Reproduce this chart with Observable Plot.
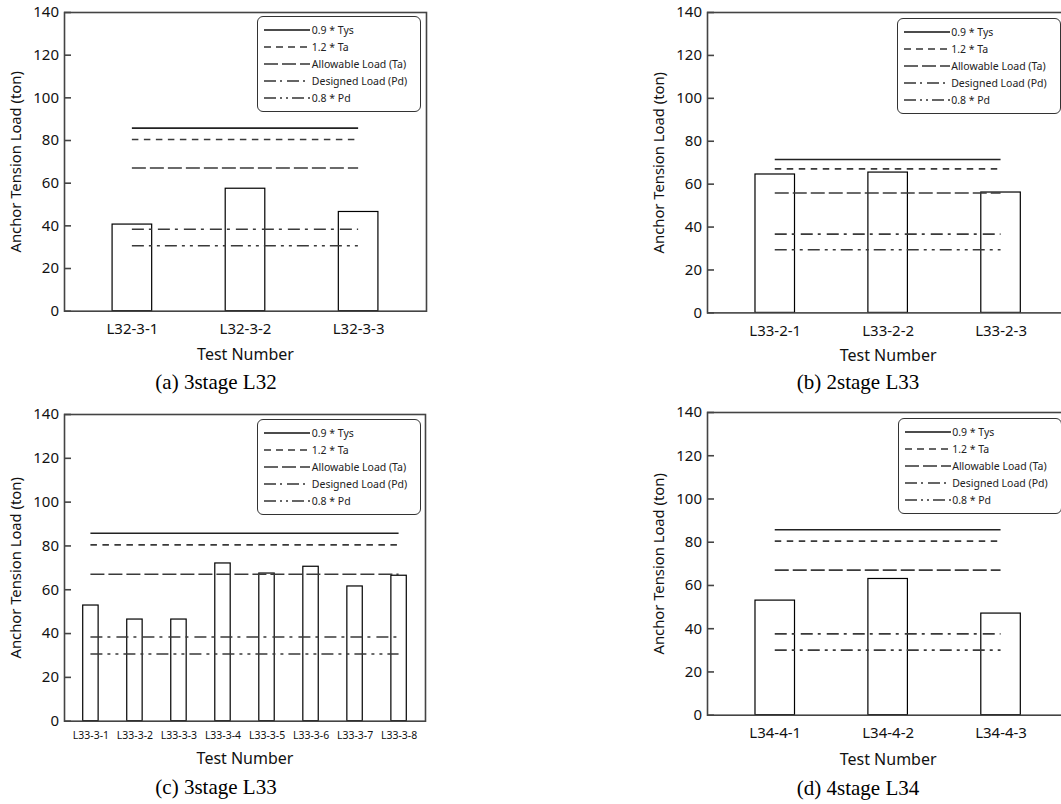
<!DOCTYPE html>
<html><head><meta charset="utf-8">
<script src="https://cdn.jsdelivr.net/npm/d3@7"></script>
<script src="https://cdn.jsdelivr.net/npm/@observablehq/plot@0.6"></script>
<style>
html,body{margin:0;padding:0;background:#fff;}
#root{position:relative;width:1061px;height:804px;overflow:hidden;font-family:"Noto Sans",sans-serif;}
.panel-svg{position:absolute;}
.caption{position:absolute;transform:translate(-50%,-50%);font-family:"Liberation Serif","Times New Roman",serif;font-size:21px;color:#000;white-space:nowrap;line-height:1;}
.legend{position:absolute;width:164px;height:96px;box-sizing:border-box;border:1px solid #333;border-radius:6px;background:#fff;}
.legend-row{position:absolute;left:0;width:160px;height:12px;}
.legend-row svg{position:absolute;left:6px;top:4px;}
.legend-row span{position:absolute;left:53.5px;top:-1px;font-size:10.5px;line-height:14px;color:#222;white-space:nowrap;}
</style></head><body><div id="root"></div>
<script>
// ---- data ----
const yTicks = [0, 20, 40, 60, 80, 100, 120, 140];
const refNames = ["0.9 * Tys", "1.2 * Ta", "Allowable Load (Ta)", "Designed Load (Pd)", "0.8 * Pd"];
const yTitle = "Anchor Tension Load (ton)";
const xTitle = "Test Number";

const testsA = ["L32-3-1", "L32-3-2", "L32-3-3"];
const loadsA = [40.6, 57.4, 46.5];
const refsA = [85.8, 80.5, 67.1, 38.4, 30.7];

const testsB = ["L33-2-1", "L33-2-2", "L33-2-3"];
const loadsB = [64.5, 65.4, 56.1];
const refsB = [71.5, 67.1, 55.9, 36.7, 29.4];

const testsC = ["L33-3-1", "L33-3-2", "L33-3-3", "L33-3-4", "L33-3-5", "L33-3-6", "L33-3-7", "L33-3-8"];
const loadsC = [52.8, 46.4, 46.4, 72.0, 67.4, 70.5, 61.5, 66.4];
const refsC = [85.8, 80.5, 67.1, 38.4, 30.7];

const testsD = ["L34-4-1", "L34-4-2", "L34-4-3"];
const loadsD = [53.0, 63.0, 47.0];
const refsD = [85.8, 80.5, 67.1, 37.6, 30.1];

const captions = ["(a) 3stage L32", "(b) 2stage L33", "(c) 3stage L33", "(d) 4stage L34"];

// ---- styles / layout ----
const SANS = '"Noto Sans", "Open Sans", sans-serif';
const DASHES = [null, "6.5,5.5", "14,4", "12,5,3,6", "12,5,3,5,3,5"];
const LEG_DASHES = [null, "7,5", "14,4", "12,4,2,5", "12,4,2,4,2,4"];
const PAD = 0.1;     // outer padding in category units
const HALF = 0.175;  // half bar width in category units
const Y_TICK_FONT = 15;

const panels = [
  {tests: testsA, loads: loadsA, refs: refsA, caption: captions[0],
   frame: {l: 64, t: 12.3, r: 426, b: 311}, xFont: 15, xPad: 12, titleDy: 44, capX: 216, capY: 382, leg: {l: 257.3, t: 15.7}},
  {tests: testsB, loads: loadsB, refs: refsB, caption: captions[1],
   frame: {l: 706.7, t: 12.3, r: 1068, b: 312.7}, xFont: 15, xPad: 12, titleDy: 43.3, capX: 858, capY: 382, leg: {l: 896.7, t: 18.3}},
  {tests: testsC, loads: loadsC, refs: refsC, caption: captions[2],
   frame: {l: 64, t: 414.3, r: 425, b: 721}, xFont: 10.5, xPad: 10.8, titleDy: 37.7, capX: 216, capY: 787, leg: {l: 257.3, t: 419.3}},
  {tests: testsD, loads: loadsD, refs: refsD, caption: captions[3],
   frame: {l: 706.7, t: 412.3, r: 1068, b: 715}, xFont: 15, xPad: 12.2, titleDy: 44.2, capX: 858, capY: 787.5, leg: {l: 897.7, t: 417.7}}
];

const root = document.getElementById("root");

function drawPanel(p) {
  const n = p.tests.length;
  const rows = p.tests.map((t, i) => ({i, test: t, load: p.loads[i]}));
  const M = {left: 64, top: 12, right: 8, bottom: 62};
  const fw = p.frame.r - p.frame.l, fh = p.frame.b - p.frame.t;
  const svg = Plot.plot({
    width: fw + M.left + M.right,
    height: fh + M.top + M.bottom,
    marginLeft: M.left, marginTop: M.top, marginRight: M.right, marginBottom: M.bottom,
    x: {domain: [-0.5 - PAD, n - 0.5 + PAD]},
    y: {domain: [0, 140]},
    style: {fontFamily: SANS, color: "#111", background: "transparent", overflow: "visible"},
    marks: [
      Plot.rect(rows, {x1: d => d.i - HALF, x2: d => d.i + HALF, y1: 0, y2: "load", fill: "white", stroke: "#000", strokeWidth: 1.2}),
      ...p.refs.map((v, k) => Plot.ruleY([v], {x1: 0, x2: n - 1, stroke: k === 0 ? "#222" : "#3a3a3a", strokeWidth: 1.6, strokeDasharray: DASHES[k]})),
      Plot.frame({stroke: "#444", strokeWidth: 1.6}),
      Plot.axisY({ticks: yTicks, tickSize: -7, tickPadding: 12.5, fontSize: Y_TICK_FONT, stroke: "#444", strokeWidth: 1.6, label: null, fill: "#111"}),
      Plot.axisX({ticks: d3.range(n), tickFormat: i => p.tests[i], tickSize: 0, tickPadding: p.xPad, fontSize: p.xFont, label: null, fill: "#111"}),
      Plot.text([xTitle], {frameAnchor: "bottom", dy: p.titleDy, fontSize: 16, lineAnchor: "middle", textAnchor: "middle", fill: "#111"}),
      Plot.text([yTitle], {frameAnchor: "left", dx: -48, rotate: -90, fontSize: 14.8, lineAnchor: "middle", textAnchor: "middle", fill: "#111"})
    ]
  });
  // enforce tick label font sizes
  svg.querySelectorAll('g[aria-label="x-axis tick label"], g[aria-label="x-axis tick label"] text').forEach(el => el.style.fontSize = p.xFont + "px");
  svg.querySelectorAll('g[aria-label="y-axis tick label"], g[aria-label="y-axis tick label"] text').forEach(el => el.style.fontSize = Y_TICK_FONT + "px");
  svg.classList.add("panel-svg");
  svg.style.left = (p.frame.l - M.left) + "px";
  svg.style.top = (p.frame.t - M.top) + "px";
  root.appendChild(svg);

  // legend
  const leg = document.createElement("div");
  leg.className = "legend";
  leg.style.left = p.leg.l + "px";
  leg.style.top = p.leg.t + "px";
  refNames.forEach((name, k) => {
    const row = document.createElement("div");
    row.className = "legend-row";
    row.style.top = (7.2 + 17 * k) + "px";
    const ns = "http://www.w3.org/2000/svg";
    const s = document.createElementNS(ns, "svg");
    s.setAttribute("width", 46); s.setAttribute("height", 4);
    const ln = document.createElementNS(ns, "line");
    ln.setAttribute("x1", 0); ln.setAttribute("x2", 46); ln.setAttribute("y1", 2); ln.setAttribute("y2", 2);
    ln.setAttribute("stroke", k === 0 ? "#111" : "#333");
    ln.setAttribute("stroke-width", 1.3);
    if (LEG_DASHES[k]) ln.setAttribute("stroke-dasharray", LEG_DASHES[k]);
    s.appendChild(ln);
    const sp = document.createElement("span");
    sp.textContent = name;
    row.appendChild(s); row.appendChild(sp);
    leg.appendChild(row);
  });
  root.appendChild(leg);

  const cap = document.createElement("div");
  cap.className = "caption";
  cap.textContent = p.caption;
  cap.style.left = p.capX + "px";
  cap.style.top = p.capY + "px";
  root.appendChild(cap);
}

panels.forEach(drawPanel);
</script></body></html>
